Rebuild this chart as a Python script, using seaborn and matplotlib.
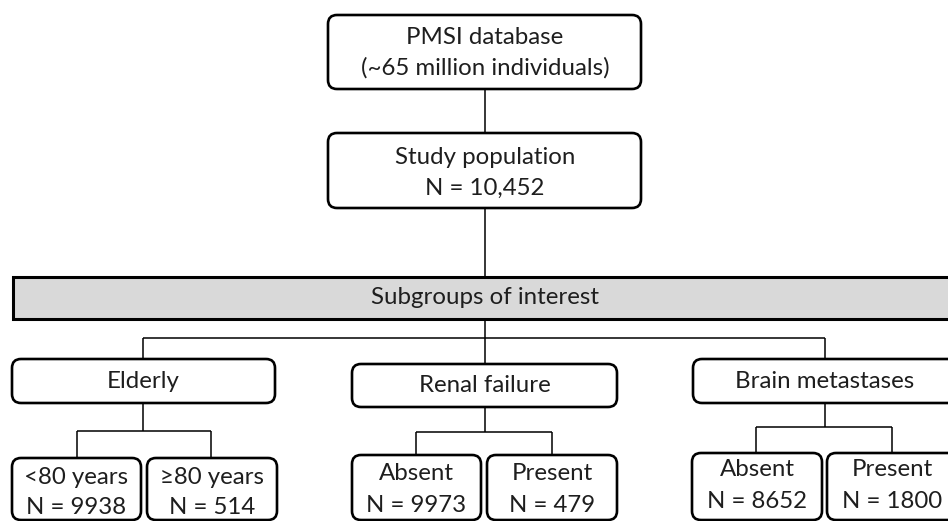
import matplotlib
matplotlib.use("Agg")
import matplotlib.pyplot as plt
from matplotlib.patches import FancyBboxPatch, Rectangle
import seaborn as sns

sns.set_theme(style="white")
plt.rcParams['font.family'] = ['Lato', 'DejaVu Sans']

# ---- data ----
top_lines = ["PMSI database", "(~65 million individuals)"]
study_label = "Study population"
study_n = "10,452"
bar_label = "Subgroups of interest"
groups = ["Elderly", "Renal failure", "Brain metastases"]
sub_labels = [["<80 years", "\u226580 years"], ["Absent", "Present"], ["Absent", "Present"]]
sub_n = [[9938, 514], [9973, 479], [8652, 1800]]

W, H = 948, 521
fig = plt.figure(figsize=(W / 100, H / 100), dpi=100)
ax = fig.add_axes([0, 0, 1, 1])
ax.set_xlim(0, W)
ax.set_ylim(H, 0)
ax.axis("off")

BOX_LW = 1.9
LINE_LW = 1.1
FS = 17.3


def rbox(x0, y0, x1, y1, r=9):
    p = FancyBboxPatch((x0, y0), x1 - x0, y1 - y0,
                       boxstyle=f"round,pad=0,rounding_size={r}",
                       fc="white", ec="black", lw=BOX_LW, zorder=3,
                       clip_on=False)
    ax.add_patch(p)


def line(xs, ys):
    ax.plot(xs, ys, color="black", lw=LINE_LW, zorder=2, solid_capstyle="butt")


def txt(x, y, s):
    ax.text(x, y, s, ha="center", va="center", fontsize=FS, color="#1e1e1e", zorder=4)


cx = 485
# top boxes
rbox(328, 15, 641, 89)
txt(cx, 38, top_lines[0])
txt(cx, 68, top_lines[1])
line([cx, cx], [89, 133])
rbox(328, 133, 641, 208)
txt(cx, 157, study_label)
txt(cx, 188, f"N = {study_n}")
line([cx, cx], [208, 277])

# grey bar
ax.add_patch(Rectangle((13, 277), 960, 42, fc="#d9d9d9", ec="black", lw=2.2,
                       zorder=3, clip_on=True))
txt(cx, 298, bar_label)

# group layout
g_cx = [143, 485, 825]
g_box = [(12, 359, 275, 403), (352, 364, 617, 407), (693, 359, 957, 403)]
g_ty = [382, 386, 382]
h_y = 338
line([cx, cx], [319, h_y])
line([g_cx[0], g_cx[2]], [h_y, h_y])
for i in range(3):
    line([g_cx[i], g_cx[i]], [h_y, g_box[i][1]])

split_y = [431, 432, 427]
child_top = [458, 455, 453]
child_x = [[(12, 141), (147, 277)], [(352, 481), (487, 617)], [(692, 822), (827, 957)]]
child_cx = [[77, 211], [416, 552], [756, 892]]
child_ty = [(478, 508), (474, 505), (470, 502)]

for i, g in enumerate(groups):
    x0, y0, x1, y1 = g_box[i]
    rbox(x0, y0, x1, y1)
    txt(g_cx[i], g_ty[i], g)
    line([g_cx[i], g_cx[i]], [y1, split_y[i]])
    line([child_cx[i][0], child_cx[i][1]], [split_y[i], split_y[i]])
    for j in range(2):
        line([child_cx[i][j], child_cx[i][j]], [split_y[i], child_top[i]])
        a, b = child_x[i][j]
        rbox(a, child_top[i], b, 520)
        txt((a + b) / 2, child_ty[i][0], sub_labels[i][j])
        txt((a + b) / 2, child_ty[i][1], f"N = {sub_n[i][j]}")

fig.savefig("out.png", dpi=100, facecolor="white")
